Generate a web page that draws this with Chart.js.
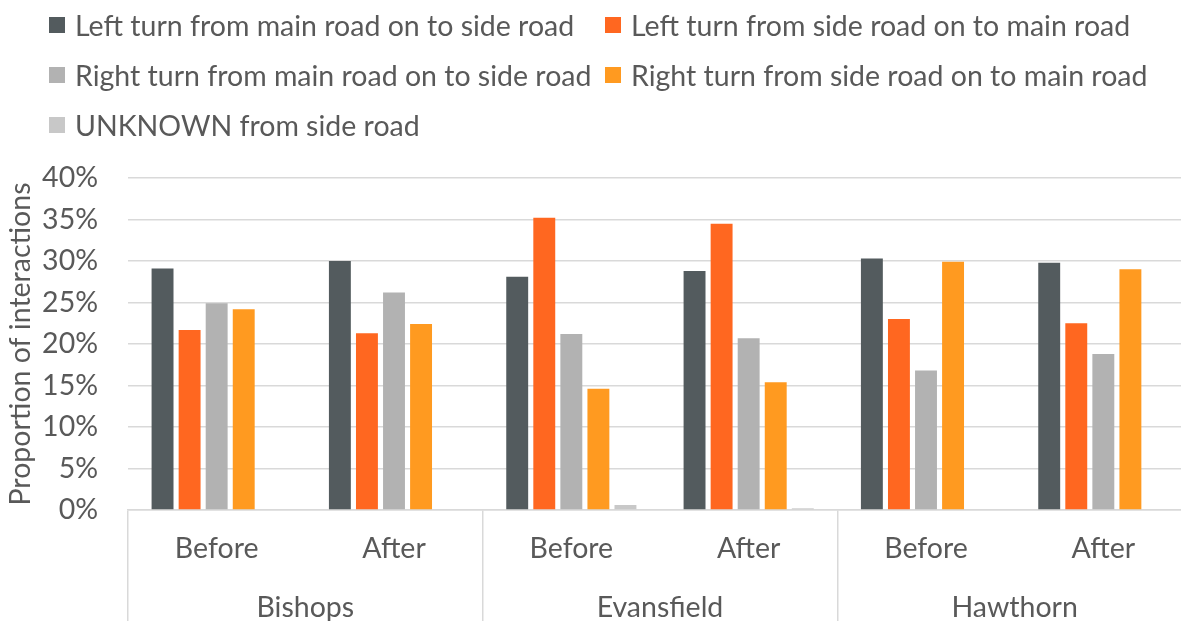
<!DOCTYPE html>
<html>
<head>
<meta charset="utf-8">
<script src="https://cdn.jsdelivr.net/npm/chart.js@4.4.1/dist/chart.umd.min.js"></script>
<style>
  html, body { margin: 0; padding: 0; background: #fff; overflow: hidden; }
  #wrap { position: absolute; left: 0; top: 0; width: 1192px; height: 621px; }
  #legend { position: absolute; left: 49px; top: 0; display: grid; grid-template-columns: 556px auto; grid-auto-rows: 50px; z-index: 2; }
  .li { display: flex; align-items: center; white-space: nowrap; color: #595959; }
  .sw { width: 16px; height: 16px; margin-right: 10px; flex: none; }
</style>
</head>
<body>
<div id="wrap"><canvas id="c"></canvas></div>
<div id="legend"></div>
<script>
const FONT = 'Lato';
const FONT_SIZE = 28.5;
const subCategories = ['Before', 'After', 'Before', 'After', 'Before', 'After'];
const sites = ['Bishops', 'Evansfield', 'Hawthorn'];
const seriesNames = [
  'Left turn from main road on to side road',
  'Left turn from side road on to main road',
  'Right turn from main road on to side road',
  'Right turn from side road on to main road',
  'UNKNOWN from side road'
];
const leftMainToSide = [29.1, 30.0, 28.1, 28.8, 30.3, 29.8];
const leftSideToMain = [21.7, 21.3, 35.2, 34.5, 23.0, 22.5];
const rightMainToSide = [24.9, 26.2, 21.2, 20.7, 16.8, 18.8];
const rightSideToMain = [24.2, 22.4, 14.6, 15.4, 29.9, 29.0];
const unknownSide = [0, 0, 0.6, 0.2, 0, 0];
const yTicks = [0, 5, 10, 15, 20, 25, 30, 35, 40];

const colors = ['#535b5e', '#ff6720', '#b2b2b2', '#ff9a20', '#c8c8c8'];
const seriesData = [leftMainToSide, leftSideToMain, rightMainToSide, rightSideToMain, unknownSide];
const textColor = '#595959';
const gridColor = '#d9d9d9';

const datasets = seriesNames.map((name, i) => ({
  label: name,
  data: seriesData[i],
  backgroundColor: colors[i],
  borderWidth: 0,
  categoryPercentage: 0.763,
  barPercentage: 0.81
}));

const chart = new Chart(document.getElementById('c'), {
  type: 'bar',
  data: { labels: subCategories, datasets },
  options: {
    responsive: true,
    maintainAspectRatio: false,
    animation: false,
    layout: { padding: { top: 178, left: 4, right: 0, bottom: 0 } },
    plugins: { legend: { display: false }, tooltip: { enabled: false } },
    scales: {
      x: {
        type: 'category',
        position: 'bottom',
        weight: 1,
        offset: true,
        grid: {
          display: true, drawOnChartArea: false, drawTicks: true, tickLength: 60, offset: true,
          color: (ctx) => (ctx.index % 2 === 0 ? gridColor : 'rgba(0,0,0,0)'), lineWidth: 1.5
        },
        border: { display: true, color: gridColor, width: 1.5 },
        ticks: { color: textColor, font: { family: FONT, size: FONT_SIZE }, padding: -38, maxRotation: 0, autoSkip: false },
        afterFit: (s) => { s.height = 60; }
      },
      site: {
        type: 'category',
        position: 'bottom',
        weight: 2,
        labels: sites,
        offset: true,
        grid: { display: true, drawOnChartArea: false, drawTicks: true, tickLength: 60, offset: true, color: gridColor, lineWidth: 1.5 },
        border: { display: false },
        ticks: { color: textColor, font: { family: FONT, size: FONT_SIZE }, padding: -39, maxRotation: 0, autoSkip: false },
        afterFit: (s) => { s.height = 51; }
      },
      y: {
        min: 0, max: 40,
        afterBuildTicks: (s) => { s.ticks = yTicks.map(v => ({ value: v })); },
        grid: { color: gridColor, lineWidth: 1.5, drawTicks: true, tickLength: 30, tickColor: 'rgba(0,0,0,0)' },
        border: { display: false },
        ticks: { color: textColor, font: { family: FONT, size: FONT_SIZE }, padding: 0, callback: (v) => v + '%' },
        title: { display: true, text: 'Proportion of interactions', color: textColor, font: { family: FONT, size: FONT_SIZE }, padding: { top: 0, bottom: 6 } },
        afterFit: (s) => { s.width = 124; }
      }
    }
  }
});

// HTML legend built from the chart's own legend items
const legendEl = document.getElementById('legend');
legendEl.style.fontFamily = FONT;
legendEl.style.fontSize = FONT_SIZE + 'px';
Chart.defaults.plugins.legend.labels.generateLabels(chart).forEach(item => {
  const d = document.createElement('div');
  d.className = 'li';
  const sw = document.createElement('span');
  sw.className = 'sw';
  sw.style.background = item.fillStyle;
  const t = document.createElement('span');
  t.textContent = item.text;
  d.appendChild(sw); d.appendChild(t);
  legendEl.appendChild(d);
});
</script>
</body>
</html>
